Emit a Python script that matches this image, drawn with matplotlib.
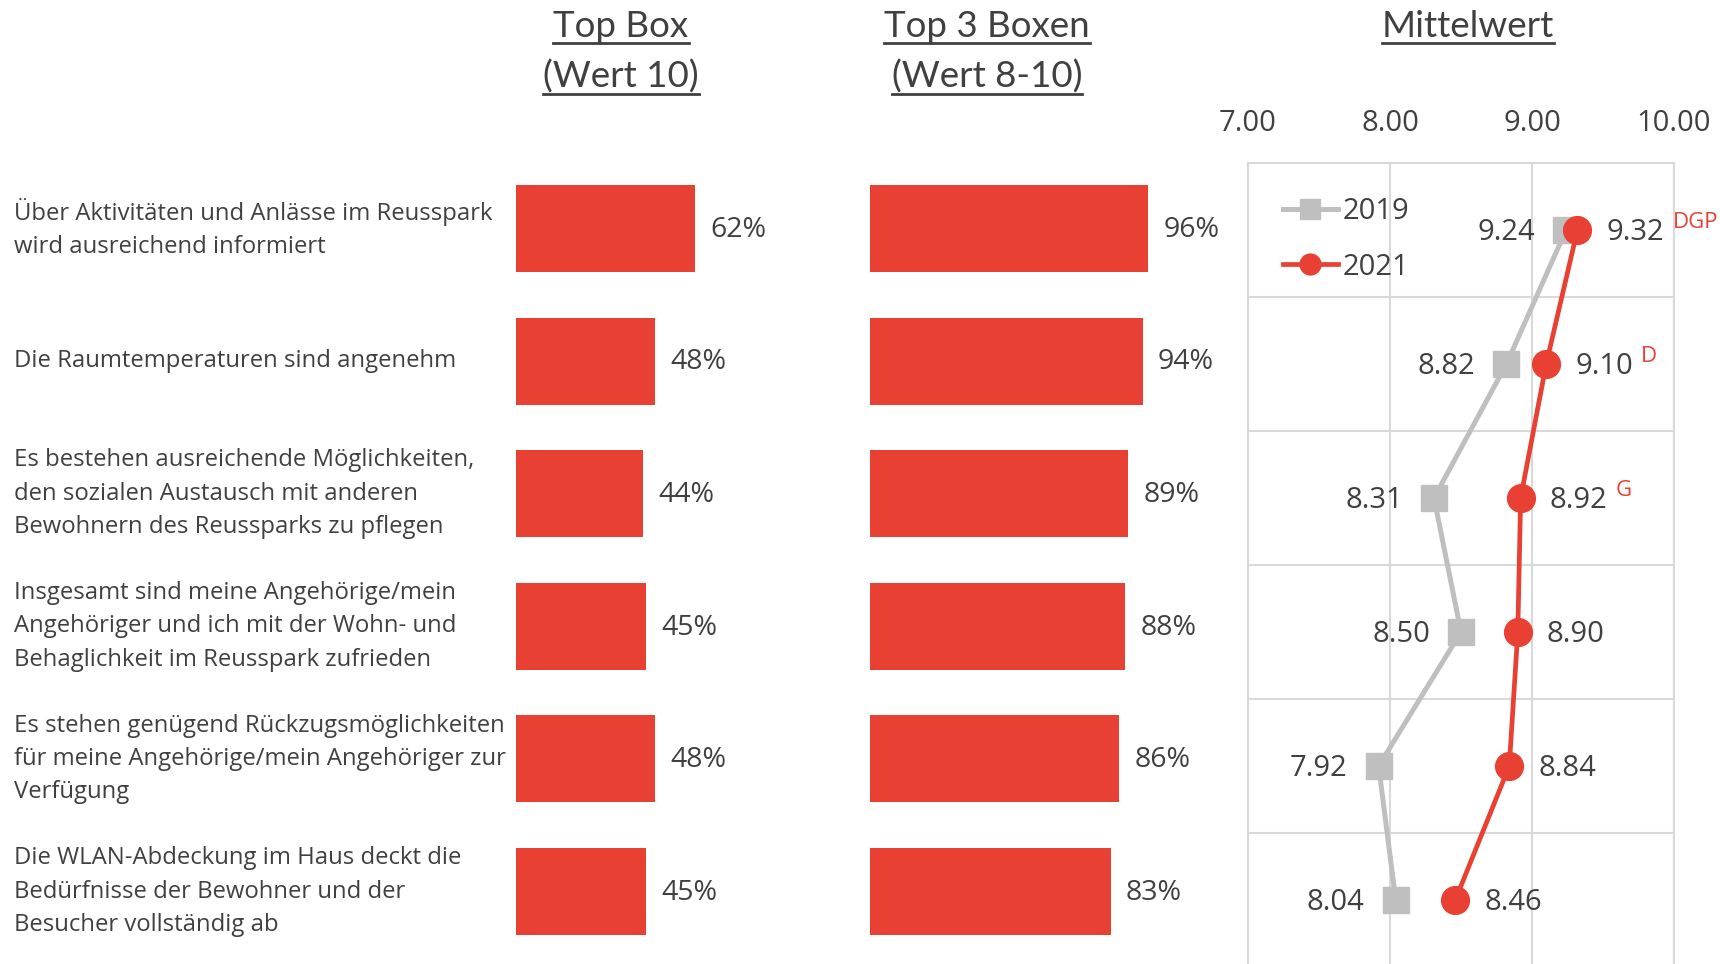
import matplotlib
matplotlib.use("Agg")
import matplotlib.pyplot as plt
from matplotlib.lines import Line2D
from matplotlib.transforms import offset_copy, blended_transform_factory

plt.rcParams['font.family'] = ['Open Sans', 'DejaVu Sans']

# data
categories = [
    "Über Aktivitäten und Anlässe im Reusspark\nwird ausreichend informiert",
    "Die Raumtemperaturen sind angenehm",
    "Es bestehen ausreichende Möglichkeiten,\nden sozialen Austausch mit anderen\nBewohnern des Reussparks zu pflegen",
    "Insgesamt sind meine Angehörige/mein\nAngehöriger und ich mit der Wohn- und\nBehaglichkeit im Reusspark zufrieden",
    "Es stehen genügend Rückzugsmöglichkeiten\nfür meine Angehörige/mein Angehöriger zur\nVerfügung",
    "Die WLAN-Abdeckung im Haus deckt die\nBedürfnisse der Bewohner und der\nBesucher vollständig ab",
]
top_box = [62, 48, 44, 45, 48, 45]
top3_box = [96, 94, 89, 88, 86, 83]
mean_2019 = [9.24, 8.82, 8.31, 8.50, 7.92, 8.04]
mean_2021 = [9.32, 9.10, 8.92, 8.90, 8.84, 8.46]
sig_2021 = ["DGP", "D", "G", "", "", ""]
mean_ticks = [7.00, 8.00, 9.00, 10.00]

RED = "#E94034"
GREY = "#BFBFBF"
TXT = "#404040"
GRID = "#D9D9D9"

W, H = 1720, 964
fig = plt.figure(figsize=(W / 100, H / 100), dpi=100)


def fbox(left, top, width, height):
    # pixel box -> figure coords
    return [left / W, 1 - (top + height) / H, width / W, height / H]


n = len(categories)
rows = list(range(n))

# --- bar columns ---
bar_h = 87 / 132.6
for k, (left, vals) in enumerate([(515.6, top_box), (870, top3_box)]):
    ax = fig.add_axes(fbox(left, 162.2, 290, 132.6 * n))
    ax.barh(rows, [v / 100 for v in vals], height=bar_h, color=RED)
    ax.set_xlim(0, 1)
    ax.set_ylim(n - 0.5, -0.5)
    ax.axis("off")
    for i, v in enumerate(vals):
        ax.annotate(f"{v}%", (v / 100, i), xytext=(11, -1), textcoords="offset points",
                    va="center", ha="left", fontsize=20.5, color=TXT)
    if k == 0:
        tr = blended_transform_factory(fig.transFigure, ax.transData)
        for i, c in enumerate(categories):
            ax.text(14 / W, i, c, ha="left", va="center", fontsize=17.2, color=TXT,
                    linespacing=1.52, transform=tr)

# --- mean chart ---
axm = fig.add_axes(fbox(1248, 163, 426, 134 * n))
axm.set_xlim(7, 10)
axm.set_ylim(n - 0.5, -0.5)
axm.plot(mean_2019, rows, color=GREY, lw=3.6, marker="s", ms=19, label="2019", zorder=3)
axm.plot(mean_2021, rows, color=RED, lw=3.4, marker="o", ms=20, label="2021", zorder=4)
axm.xaxis.tick_top()
axm.set_xticks(mean_ticks)
axm.set_xticklabels([f"{t:.2f}" for t in mean_ticks])
axm.tick_params(axis="x", length=0, pad=18, labelsize=21, labelcolor=TXT)
axm.set_yticks([r + 0.5 for r in rows[:-1]])
axm.tick_params(axis="y", length=0, labelleft=False)
axm.grid(True, color=GRID, lw=1.5)
axm.set_axisbelow(True)
for s in axm.spines.values():
    s.set_color(GRID)
    s.set_linewidth(1.5)

for i in rows:
    axm.text(mean_2019[i], i, f"{mean_2019[i]:.2f}", ha="right", va="center",
             fontsize=21, color=TXT,
             transform=offset_copy(axm.transData, fig, x=-31, y=-2, units="dots"))
    axm.text(mean_2021[i], i, f"{mean_2021[i]:.2f}", ha="left", va="center",
             fontsize=21, color=TXT,
             transform=offset_copy(axm.transData, fig, x=29, y=-2, units="dots"))
    if sig_2021[i]:
        axm.text(mean_2021[i], i, sig_2021[i], ha="left", va="center",
                 fontsize=16, color=RED, clip_on=False,
                 transform=offset_copy(axm.transData, fig, x=95, y=8, units="dots"))

leg = axm.legend(loc="upper left", bbox_to_anchor=(0.02, 0.99), frameon=False,
                 fontsize=21, labelcolor=TXT, handlelength=1.9, handletextpad=0.15,
                 labelspacing=0.9, markerscale=0.75)

# --- titles with underline ---
titles = [
    (621, ["Top Box", "(Wert 10)"]),
    (987, ["Top 3 Boxen", "(Wert 8-10)"]),
    (1468, ["Mittelwert"]),
]
baselines = [37, 88]
title_texts = []
for xc, lines in titles:
    for j, line in enumerate(lines):
        t = fig.text(xc / W, 1 - baselines[j] / H, line, ha="center", va="baseline",
                     fontsize=26.5, color=TXT, family=["Lato", "DejaVu Sans"])
        title_texts.append((t, baselines[j]))

fig.canvas.draw()
r = fig.canvas.get_renderer()
for t, b in title_texts:
    bb = t.get_window_extent(renderer=r)
    y = 1 - (b + 6) / H
    fig.add_artist(Line2D([bb.x0 / W, bb.x1 / W], [y, y], color=TXT, lw=2,
                          transform=fig.transFigure))

fig.savefig("out.png", dpi=100)
